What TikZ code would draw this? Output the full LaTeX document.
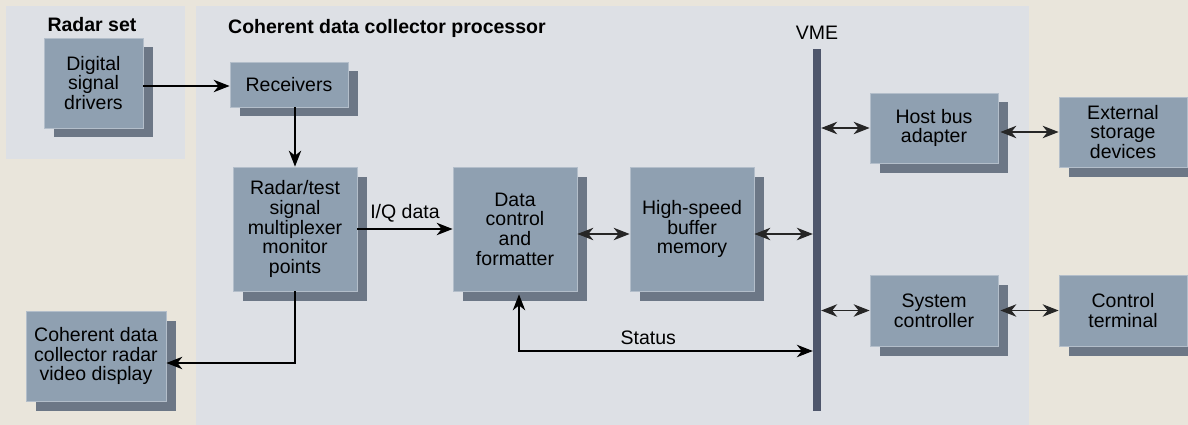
\documentclass[tikz,border=0pt]{standalone}
\usepackage{fontspec}
\setmainfont{Liberation Sans}
\usetikzlibrary{arrows.meta,shadows}
\definecolor{bgcol}{HTML}{E9E5DB}
\definecolor{panelcol}{HTML}{DDE0E5}
\definecolor{boxcol}{HTML}{8FA0B1}
\definecolor{boxedge}{HTML}{B3BECA}
\definecolor{shadowcol}{HTML}{6C7786}
\definecolor{buscol}{HTML}{4E566B}
\tikzset{
  >={Stealth[length=16pt,width=12.5pt,inset=5pt]},
  txt/.style={font=\fontsize{19.5}{19.6}\selectfont},
  unit/.style={txt, draw=boxedge, line width=0.8pt, fill=boxcol, align=center,
    inner sep=0pt,
    drop shadow={shadow xshift=9.5pt, shadow yshift=-9.5pt, opacity=1,
      fill=shadowcol, draw=none}},
  lbl/.style={txt, inner sep=0pt, anchor=base},
  ttl/.style={font=\bfseries\fontsize{19.5}{19.5}\selectfont, inner sep=0pt, anchor=base},
  link/.style={line width=1.2pt, draw=black},
  duplex/.style={line width=1.1pt, draw=black!85, <->},
}
\begin{document}
\begin{tikzpicture}[x=1pt, y=-1pt]
  % canvas and the two grouping panels
  \fill[bgcol] (0,0) rectangle (1188,425);
  \useasboundingbox (0,0) rectangle (1188,425);
  \fill[panelcol] (6,6) rectangle (185,159);
  \fill[panelcol] (196,6) rectangle (1029,425);
  \node[ttl] (radarlbl) at (92,32) {Radar set};
  \node[ttl, anchor=base west] (cdcplbl) at (228,34) {Coherent data collector processor};

  % functional units
  \node[unit, minimum width=99pt, minimum height=90pt] (dsd) at (93.5,83) {Digital\\signal\\drivers};
  \node[unit, minimum width=118pt, minimum height=45pt] (rcv) at (289,84.5) {Receivers};
  \node[unit, minimum width=124pt, minimum height=124pt] (mux) at (295,229) {Radar/test\\signal\\multiplexer\\monitor\\points};
  \node[unit, minimum width=124pt, minimum height=124pt, text depth=0pt] (dcf) at (515,229) {Data\\control\\and\\formatter};
  \node[unit, minimum width=124pt, minimum height=124pt] (hsb) at (692,229) {High-speed\\buffer\\memory};
  \node[unit, minimum width=128pt, minimum height=70pt] (hba) at (934,128) {Host bus\\adapter};
  \node[unit, minimum width=128pt, minimum height=70pt] (esd) at (1123,132) {External\\storage\\devices};
  \node[unit, minimum width=128pt, minimum height=71pt] (sc) at (934,310.5) {System\\controller};
  \node[unit, minimum width=128pt, minimum height=71pt] (ct) at (1123,310.5) {Control\\terminal};
  \node[unit, minimum width=140pt, minimum height=90pt] (cdd) at (96,356) {Coherent data\\collector radar\\video display};

  % VME backplane bus
  \node[fill=buscol, minimum width=8pt, minimum height=362pt, inner sep=0pt] (bus) at (817,230) {};
  \node[lbl] (vmelbl) at (817,40) {VME};

  % signal flow
  \draw[link, ->] ([yshift=-1.5pt]dsd.east |- rcv.west) -- ([yshift=-1.5pt]rcv.west);
  \draw[link, ->] (rcv.south -| mux.north) -- (mux.north);
  \draw[link, ->] (mux.east) -- node[lbl, yshift=11pt] {I/Q data} (dcf.west);
  \draw[link, ->] (mux.south) |- ([yshift=-7pt]cdd.east);
  \coordinate (statusrow) at (0,351);
  \draw[link, <->] ([xshift=4pt, yshift=-3pt]dcf.south) |- node[lbl, pos=0.72, yshift=7pt] {Status} (bus.west |- statusrow);
  \draw[duplex] ([yshift=-5pt]dcf.east) -- ([yshift=-5pt]hsb.west);
  \draw[duplex] ([yshift=-5pt]hsb.east) -- ([yshift=-5pt]bus.west |- hsb.east);
  \draw[duplex] (bus.east |- hba.west) -- (hba.west);
  \draw[duplex] ([xshift=2pt]hba.east |- esd.west) -- (esd.west);
  \draw[duplex] (bus.east |- sc.west) -- (sc.west);
  \draw[duplex] ([xshift=2pt]sc.east |- ct.west) -- (ct.west);
\end{tikzpicture}
\end{document}
